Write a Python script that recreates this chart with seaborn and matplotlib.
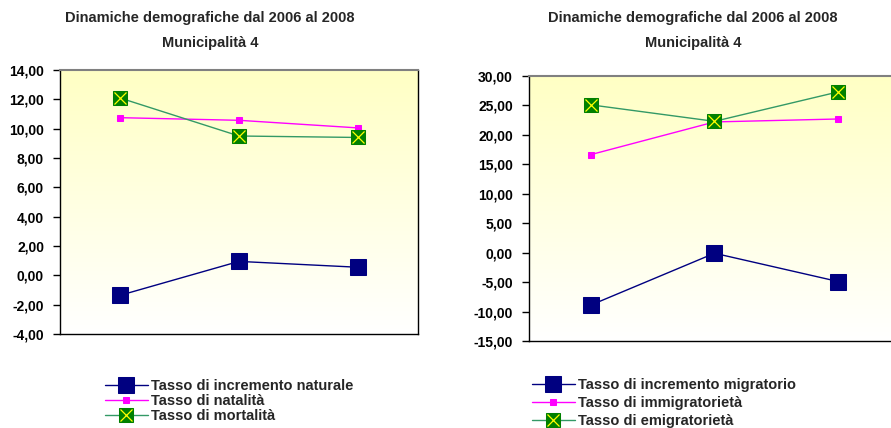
import numpy as np
import matplotlib
matplotlib.use("Agg")
import matplotlib.pyplot as plt
import seaborn as sns
from matplotlib.ticker import FuncFormatter, MultipleLocator
from matplotlib.colors import LinearSegmentedColormap

# ================= DATA =================
anni = [0, 1, 2]

nat_incremento = [-1.37, 0.95, 0.55]
nat_natalita = [10.75, 10.57, 10.05]
nat_mortalita = [12.1, 9.5, 9.4]

mig_incremento = [-8.9, -0.1, -4.9]
mig_immig = [16.65, 22.2, 22.7]
mig_emig = [25.1, 22.3, 27.3]

labels_left = ["Tasso di incremento naturale", "Tasso di natalità", "Tasso di mortalità"]
labels_right = ["Tasso di incremento migratorio", "Tasso di immigratorietà", "Tasso di emigratorietà"]

titolo = "Dinamiche demografiche dal 2006 al 2008\nMunicipalità 4"

# ================= STYLE =================
sns.set_style("white")
plt.rcParams["font.family"] = ["Liberation Sans", "DejaVu Sans"]
plt.rcParams["font.weight"] = "bold"

NAVY = "#000080"
MAGENTA = "#FF00FF"
GREEN = "#008000"
GREEN_LINE = "#339966"

bg_cmap = LinearSegmentedColormap.from_list("bg", ["#FFFFFF", "#FFFFC4"])

fig = plt.figure(figsize=(8.91, 4.28), dpi=100)
ax1 = fig.add_axes([60 / 891, 94 / 428, 358 / 891, 264 / 428])
ax2 = fig.add_axes([529 / 891, 87 / 428, 371 / 891, 265 / 428])


def draw(ax, s1, s2, s3, labels, ymin, ymax, step, legend_pos, spacing):
    ax.imshow(np.linspace(0, 1, 256).reshape(-1, 1)[::-1], cmap=bg_cmap,
              aspect="auto", extent=[0, 1, 0, 1], transform=ax.transAxes, zorder=0)

    sns.lineplot(x=anni, y=s1, ax=ax, color=NAVY, lw=1, marker="s", markersize=11,
                 markeredgecolor=NAVY, zorder=3)
    sns.lineplot(x=anni, y=s2, ax=ax, color=MAGENTA, lw=1, marker="s", markersize=5,
                 markeredgecolor=MAGENTA, zorder=3)
    sns.lineplot(x=anni, y=s3, ax=ax, color=GREEN_LINE, lw=1, marker="s", markersize=10.5,
                 markerfacecolor=GREEN, markeredgecolor=GREEN, zorder=3)
    ax.plot(anni, s3, linestyle="", marker="x", markersize=8, color="#FFFF00",
            mew=0.9, zorder=4)

    lines = ax.get_lines()
    handles = [lines[0], lines[1], (lines[2], lines[3])]

    ax.set_xlim(-0.5, 2.5)
    ax.set_ylim(ymin, ymax)
    ax.yaxis.set_major_locator(MultipleLocator(step))
    ax.yaxis.set_major_formatter(FuncFormatter(lambda v, p: f"{v:.2f}".replace(".", ",")))
    ax.set_xticks([])
    ax.tick_params(axis="y", which="major", left=True, length=5, width=1,
                   labelsize=10, pad=6.5, colors="black")
    for lab in ax.get_yticklabels():
        lab.set_fontweight("bold")
    for side in ["left", "bottom", "right"]:
        ax.spines[side].set_color("black")
        ax.spines[side].set_linewidth(1)
    ax.spines["top"].set_color("#808080")
    ax.spines["top"].set_linewidth(1.5)

    fig.legend(handles, labels, loc="upper left", bbox_to_anchor=legend_pos,
               frameon=False, handlelength=2.9, handletextpad=0.25,
               labelspacing=spacing, borderpad=0, prop={"weight": "bold", "size": 10.5})


draw(ax1, nat_incremento, nat_natalita, nat_mortalita, labels_left, -4, 14, 2,
     (98 / 891, 1 - 372 / 428), 0.05)
draw(ax2, mig_incremento, mig_immig, mig_emig, labels_right, -15, 30, 5,
     (525 / 891, 1 - 371 / 428), 0.26)

for xc in [210, 693]:
    fig.text(xc / 891, 1 - 11 / 428, titolo, ha="center", va="top", fontsize=10.5,
             fontweight="bold", linespacing=2.0)

fig.savefig("out.png", dpi=100)
